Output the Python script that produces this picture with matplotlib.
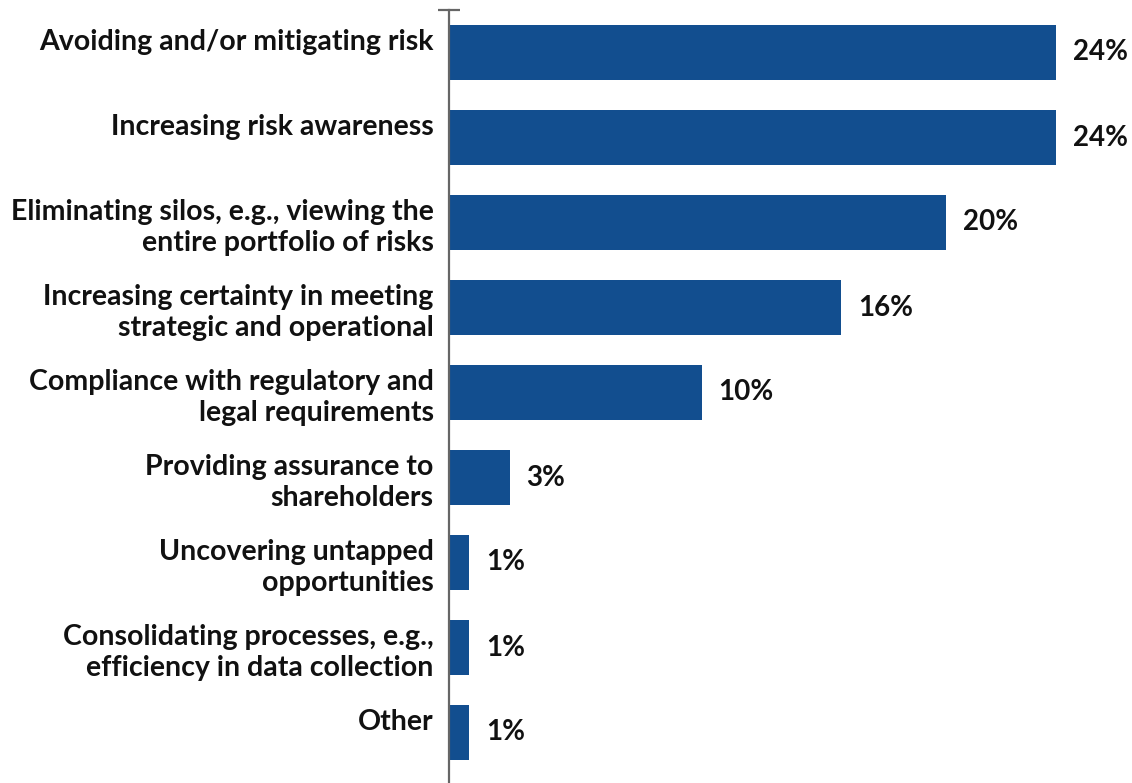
import matplotlib.pyplot as plt

# -----------------------------
# Data
# -----------------------------
categories = [
    "Avoiding and/or mitigating risk",
    "Increasing risk awareness",
    "Eliminating silos, e.g., viewing the\nentire portfolio of risks",
    "Increasing certainty in meeting\nstrategic and operational",
    "Compliance with regulatory and\nlegal requirements",
    "Providing assurance to\nshareholders",
    "Uncovering untapped\nopportunities",
    "Consolidating processes, e.g.,\nefficiency in data collection",
    "Other",
]
# bar lengths as drawn (percent)
values = [24.0, 24.0, 19.65, 15.5, 10.0, 2.4, 0.8, 0.8, 0.8]
value_labels = ["24%", "24%", "20%", "16%", "10%", "3%", "1%", "1%", "1%"]

# -----------------------------
# Figure
# -----------------------------
plt.rcParams['font.family'] = ['Lato', 'DejaVu Sans']

fig = plt.figure(figsize=(11.32, 7.83), dpi=100)
ax = fig.add_axes([449 / 1132, 0, 1 - 449 / 1132, 1 - 10 / 783])

bar_color = "#124e8f"
pos = list(range(len(categories)))
ax.barh(pos, values, height=0.65, color=bar_color)

for p, v, lab in zip(pos, values, value_labels):
    ax.annotate(lab, (v, p), xytext=(12, 0), textcoords="offset points",
                ha="left", va="center", fontsize=20, fontweight="bold",
                color="#111111")

# single-line labels sit a bit above the bar centre in the original
tick_text = [c if "\n" in c else c + "\n" for c in categories]
ax.set_yticks(pos)
ax.set_yticklabels(tick_text, fontsize=20.5, fontweight="bold", color="#111111",
                   linespacing=1.22)
ax.set_yticks([-0.5], minor=True)

ax.set_xlim(0, 27.0)
ax.set_ylim(8.5 + 8 / 85, -0.5)

ax.tick_params(axis="y", which="major", length=0, pad=11)
ax.tick_params(axis="y", which="minor", direction="inout", length=16,
               width=1.6, color="#666666")
ax.set_xticks([])

for side in ["top", "right", "bottom"]:
    ax.spines[side].set_visible(False)
ax.spines["left"].set_color("#666666")
ax.spines["left"].set_linewidth(1.6)

plt.savefig("out.png", dpi=100)
